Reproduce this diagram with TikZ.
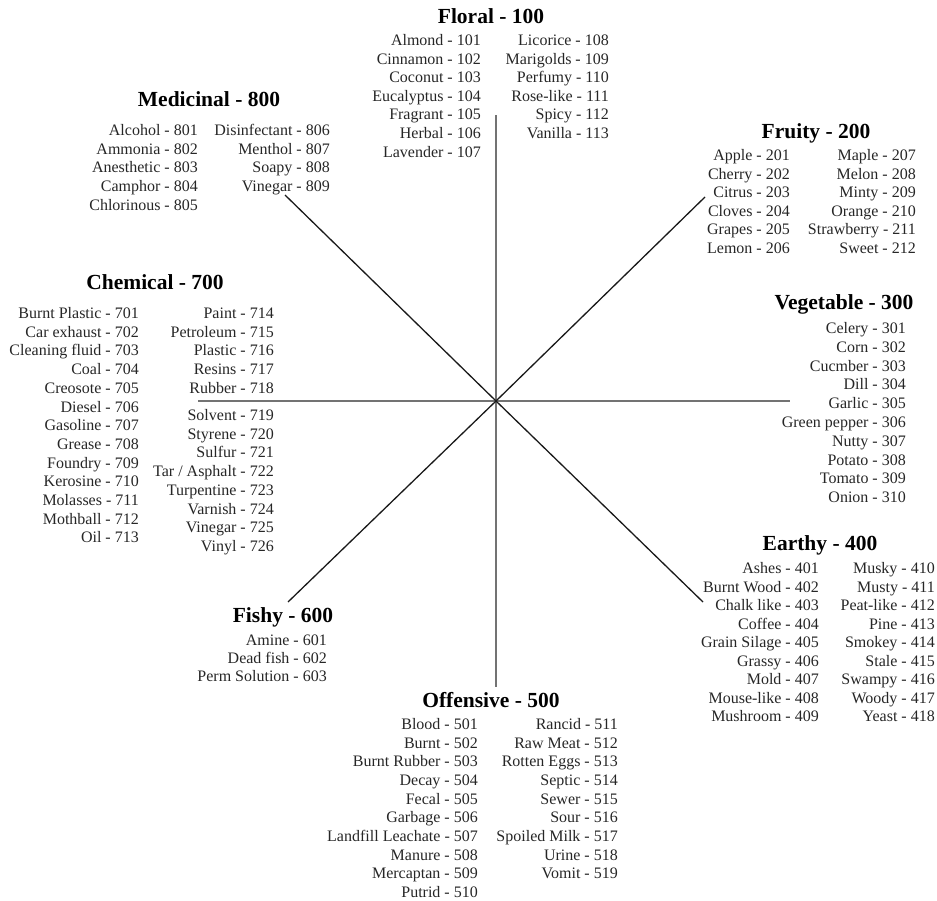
\documentclass[tikz,border=0pt]{standalone}
\usepackage{fontspec}
\setmainfont{Liberation Serif}

\begin{document}
\begin{tikzpicture}[x=1pt,y=-1pt,
    item/.style={anchor=base east,inner sep=0pt,yshift=-5.5pt,text=black!85,font=\fontsize{16}{18}\selectfont},
    head/.style={anchor=base,inner sep=0pt,yshift=-7pt,font=\fontsize{21.5}{25}\selectfont\bfseries},
    axis/.style={draw=black!55,line width=1.2pt},
    diag/.style={draw=black!90,line width=1.3pt}]
    \useasboundingbox (0,0) rectangle (937,901);
    % spokes
    \coordinate (ctr) at (496,401);
    \coordinate (sN) at (496,115);
    \coordinate (sS) at (496,687);
    \coordinate (sW) at (198,401);
    \coordinate (sE) at (790,401);
    \coordinate (sNW) at (285,195);
    \coordinate (sNE) at (705,197);
    \coordinate (sSW) at (288,602);
    \coordinate (sSE) at (703,602);
    \foreach \e in {sN,sS,sW,sE}
	\draw[axis] (ctr) -- (\e);
    \foreach \e in {sNW,sNE,sSW,sSE}
	\draw[diag] (ctr) -- (\e);
    % floral
    \node[head] (floral) at (491,17) {Floral - 100};
    \foreach \t [count=\i from 0] in {Almond - 101,Cinnamon - 102,Coconut - 103,Eucalyptus - 104,Fragrant - 105,Herbal - 106,Lavender - 107}
	\node[item] (floral\i) at (481,40+18.6*\i) {\t};
    \foreach \t [count=\i from 0] in {Licorice - 108,Marigolds - 109,Perfumy - 110,Rose-like - 111,Spicy - 112,Vanilla - 113}
	\node[item] (floralB\i) at (609,40+18.6*\i) {\t};
    % fruity
    \node[head] (fruity) at (816,132) {Fruity - 200};
    \foreach \t [count=\i from 0] in {Apple - 201,Cherry - 202,Citrus - 203,Cloves - 204,Grapes - 205,Lemon - 206}
	\node[item] (fruity\i) at (790,155+18.6*\i) {\t};
    \foreach \t [count=\i from 0] in {Maple - 207,Melon - 208,Minty - 209,Orange - 210,Strawberry - 211,Sweet - 212}
	\node[item] (fruityB\i) at (916,155+18.6*\i) {\t};
    % vegetable
    \node[head] (veg) at (844,303) {Vegetable - 300};
    \foreach \t [count=\i from 0] in {Celery - 301,Corn - 302,Cucmber - 303,Dill - 304,Garlic - 305,Green pepper - 306,Nutty - 307,Potato - 308,Tomato - 309,Onion - 310}
	\node[item] (veg\i) at (906,328+18.8*\i) {\t};
    % earthy
    \node[head] (earthy) at (820,543) {Earthy - 400};
    \foreach \t [count=\i from 0] in {Ashes - 401,Burnt Wood - 402,Chalk like - 403,Coffee - 404,Grain Silage - 405,Grassy - 406,Mold - 407,Mouse-like - 408,Mushroom - 409}
	\node[item] (earthy\i) at (819,568+18.5*\i) {\t};
    \foreach \t [count=\i from 0] in {Musky - 410,Musty - 411,Peat-like - 412,Pine - 413,Smokey - 414,Stale - 415,Swampy - 416,Woody - 417,Yeast - 418}
	\node[item] (earthyB\i) at (935,568+18.5*\i) {\t};
    % offensive
    \node[head] (offens) at (491,700) {Offensive - 500};
    \foreach \t [count=\i from 0] in {Blood - 501,Burnt - 502,Burnt Rubber - 503,Decay - 504,Fecal - 505,Garbage - 506,Landfill Leachate - 507,Manure - 508,Mercaptan - 509,Putrid - 510}
	\node[item] (offens\i) at (478,724+18.65*\i) {\t};
    \foreach \t [count=\i from 0] in {Rancid - 511,Raw Meat - 512,Rotten Eggs - 513,Septic - 514,Sewer - 515,Sour - 516,Spoiled Milk - 517,Urine - 518,Vomit - 519}
	\node[item] (offensB\i) at (618,724+18.65*\i) {\t};
    % fishy
    \node[head] (fishy) at (283,615) {Fishy - 600};
    \foreach \t [count=\i from 0] in {Amine - 601,Dead fish - 602,Perm Solution - 603}
	\node[item] (fishy\i) at (327,640+18*\i) {\t};
    % chemical
    \node[head] (chem) at (155,283) {Chemical - 700};
    \foreach \t [count=\i from 0] in {Burnt Plastic - 701,Car exhaust - 702,Cleaning fluid - 703,Coal - 704,Creosote - 705,Diesel - 706,Gasoline - 707,Grease - 708,Foundry - 709,Kerosine - 710,Molasses - 711,Mothball - 712,Oil - 713}
	\node[item] (chem\i) at (139,313+18.7*\i) {\t};
    \foreach \t [count=\i from 0] in {Paint - 714,Petroleum - 715,Plastic - 716,Resins - 717,Rubber - 718}
	\node[item] (chemB\i) at (274,313+18.7*\i) {\t};
    \foreach \t [count=\i from 0] in {Solvent - 719,Styrene - 720,Sulfur - 721,Tar / Asphalt - 722,Turpentine - 723,Varnish - 724,Vinegar - 725,Vinyl - 726}
	\node[item] (chemC\i) at (274,415+18.7*\i) {\t};
    % medicinal
    \node[head] (medic) at (209,100) {Medicinal - 800};
    \foreach \t [count=\i from 0] in {Alcohol - 801,Ammonia - 802,Anesthetic - 803,Camphor - 804,Chlorinous - 805}
	\node[item] (medic\i) at (198,130+18.75*\i) {\t};
    \foreach \t [count=\i from 0] in {Disinfectant - 806,Menthol - 807,Soapy - 808,Vinegar - 809}
	\node[item] (medicB\i) at (330,130+18.75*\i) {\t};
\end{tikzpicture}
\end{document}
